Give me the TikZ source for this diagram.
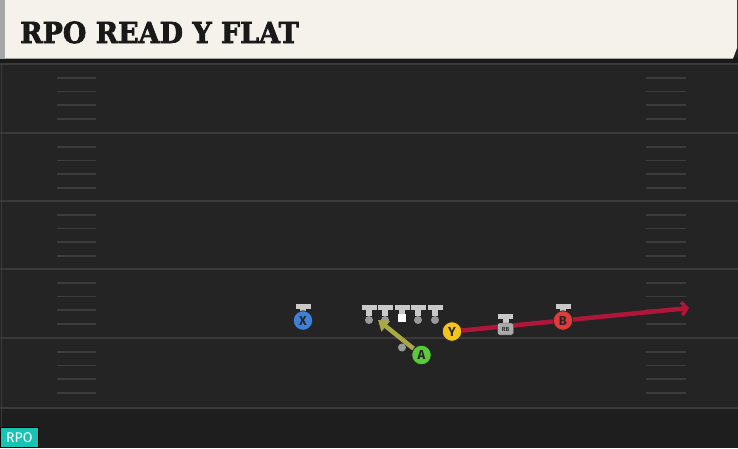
\documentclass[tikz,border=0pt]{standalone}
\usepackage{fontspec}
\newfontfamily\titlefont{DejaVu Serif}[FakeBold=2.5]
\newfontfamily\tagfont{Fira Sans}
\usetikzlibrary{arrows.meta}

\definecolor{fieldbg}{HTML}{242424}
\definecolor{fieldlow}{HTML}{1E1E1E}
\definecolor{yardgrey}{HTML}{3A3A3A}
\definecolor{hashgrey}{HTML}{3C3C3C}
\definecolor{headbg}{HTML}{F4F2EB}
\definecolor{teegrey}{HTML}{C9C9C9}
\definecolor{dotgrey}{HTML}{9A9A9A}
\definecolor{xblue}{HTML}{3F80D8}
\definecolor{ayellow}{HTML}{F3C419}
\definecolor{agreen}{HTML}{5CCB3A}
\definecolor{bred}{HTML}{E03B3B}
\definecolor{routered}{HTML}{B0153A}
\definecolor{routeolive}{HTML}{A9A844}
\definecolor{tagteal}{HTML}{17C4B4}

\begin{document}
\begin{tikzpicture}[
  x = 1pt,
  y = -1pt,
  player/.style = {
    shape = circle,
    draw = black!85,
    line width = 0.8pt,
    minimum size = 19.5pt,
    inner sep = 0pt,
    font = \tagfont\bfseries\fontsize{13}{13}\selectfont,
    text = black!85,
  },
  dot/.style = {
    shape = circle,
    fill = dotgrey,
    minimum size = 8pt,
    inner sep = 0pt,
  },
  yardline/.style = {
    draw = yardgrey,
    line width = 2pt
  },
  hash/.style = {
    draw = hashgrey,
    line width = 1.6pt
  },
  tee/.pic = {
    \fill[teegrey] (-7.5, 0) rectangle (7.5, 5);
    \fill[teegrey] (-3, 0) rectangle (3, 11);
  }
]
  \useasboundingbox (0, 0) rectangle (738, 448);

  % field
  \fill[fieldbg] (0, 0) rectangle (738, 448);
  \fill[fieldlow] (0, 409) rectangle (738, 448);
  \draw[yardgrey, line width = 1pt] (1.5, 60) -- (1.5, 448);
  \foreach \yl in {64, 133, 201, 269, 338, 408}
    \draw[yardline] (0, \yl) -- (738, \yl);
  \foreach \yl in {64, 133, 201, 269, 338}
    \foreach \dy in {14, 27.5, 41, 55} {
      \draw[hash] (57, \yl + \dy) -- (96, \yl + \dy);
      \draw[hash] (646, \yl + \dy) -- (686, \yl + \dy);
    }

  % header
  \fill[black!90] (0, 57) rectangle (738, 63);
  \fill[headbg] (0, 0) -- (737, 0) -- (737, 48) -- (733, 58.5) -- (0, 58.5) -- cycle;
  \fill[black!35] (0, 0) rectangle (5, 58.5);
  \node[anchor = base west, inner sep = 0pt, xscale = 0.93,
        font = \titlefont\bfseries\fontsize{29}{29}\selectfont, text = black!90]
    (title) at (20, 43) {RPO READ Y FLAT};

  % line
  \pic at (369, 305) {tee};
  \pic at (385, 305) {tee};
  \pic at (402, 305) {tee};
  \pic at (418, 305) {tee};
  \pic at (435, 305) {tee};
  \node[dot] (L1) at (369, 320) {};
  \node[dot] (L2) at (385, 320) {};
  \node[fill = white, minimum size = 7.5pt, inner sep = 0pt] (C) at (402, 318) {};
  \node[dot] (L4) at (418, 320) {};
  \node[dot] (L5) at (435, 320) {};
  \node[dot] (QB) at (402, 347.5) {};

  % defenders over receivers
  \pic at (303, 304) {tee};
  \pic at (563, 304) {tee};
  \pic at (505.5, 313.5) {tee};

  % routes
  \coordinate (Aend) at (378, 320);
  \coordinate (Yend) at (689, 308);
  \node[player, fill = ayellow] (Y) at (452, 331.5) {Y};
  \node[player, fill = agreen] (A) at (421.5, 355) {A};
  \draw[routered, line width = 4.5pt,
        -{Straight Barb[length = 5pt, width = 13pt, line width = 3.5pt]}] (Y) -- (Yend);
  \draw[routeolive, line width = 4.5pt,
        -{Triangle[length = 10pt, width = 13pt]}] (A) -- (Aend);

  % players
  \node[draw = black!85, fill = teegrey!85!black, rounded corners = 2pt,
        minimum width = 16pt, minimum height = 12pt, inner sep = 0pt,
        font = \tagfont\bfseries\fontsize{6}{6}\selectfont, text = black!80]
    (RB) at (505.5, 329) {RB};
  \node[player, fill = xblue] (X) at (303, 320.5) {X};
  \node[player, fill = bred] (B) at (563, 320.5) {B};
  \node[player, fill = ayellow] at (Y) {Y};
  \node[player, fill = agreen] at (A) {A};

  % play tag
  \node[anchor = south west, fill = tagteal, draw = black, line width = 0.6pt,
        minimum width = 38pt, minimum height = 20.5pt, inner sep = 0pt,
        font = \tagfont\fontsize{14}{14}\selectfont, text = white]
    (tag) at (0, 448) {RPO};
\end{tikzpicture}
\end{document}
